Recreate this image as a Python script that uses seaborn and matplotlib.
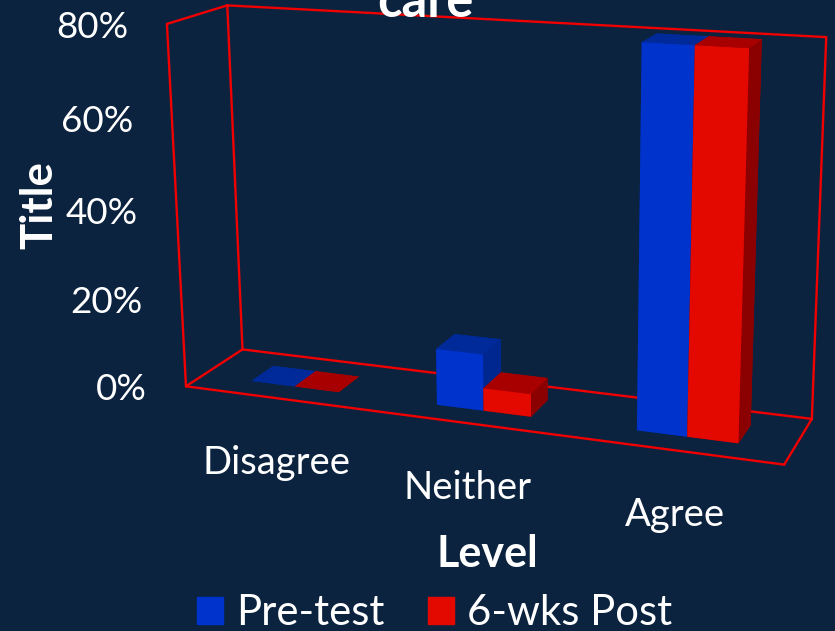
import numpy as np
import pandas as pd
import matplotlib
matplotlib.use('Agg')
import matplotlib.pyplot as plt
from matplotlib.patches import Patch
from mpl_toolkits.mplot3d import proj3d
import seaborn as sns

# Values
levels = ['Disagree', 'Neither', 'Agree']
pre_test = [0, 12.5, 80.3]
post_6wk = [0, 5, 80.3]
value_ticks = [0, 20, 40, 60, 80]
series_names = ['Pre-test', '6-wks Post']

df = pd.DataFrame({'Level': levels, series_names[0]: pre_test, series_names[1]: post_6wk})

bg = '#0C233F'
frame_red = '#F00000'
# front, top, side shades
blue_faces = sns.color_palette(['#0033CC', '#002A99', '#00278F'])
red_faces = sns.color_palette(['#E30800', '#A80000', '#8B0000'])

sns.set_theme(style='dark', rc={'figure.facecolor': bg, 'axes.facecolor': bg, 'text.color': 'white'})
plt.rcParams['font.family'] = ['Lato', 'DejaVu Sans']

W, H = 835, 631
fig = plt.figure(figsize=(W / 100, H / 100), dpi=100)
ax = fig.add_subplot(projection='3d')
ax.computed_zorder = False
ax.set_axis_off()
ax.patch.set_alpha(0)

ax.set_xlim(0, 3)
ax.set_ylim(0, 1)
ax.set_zlim(0, 80)
ax.view_init(elev=15.187, azim=-69.007, roll=0.504)
ax.set_proj_type('persp', focal_length=0.487)
ax.set_box_aspect((1, 0.198, 0.603), zoom=1)

# put the 3d view where the reference has it (scale and offset in pixels)
scale, tx, ty = 3968.44, 488.9, 409.9
ax.set_position([0, 0, 1, W / H])
ax.apply_aspect()
p0 = ax.transData.transform((0, 0))
unit = ax.transData.transform((1, 1)) - p0
factor = scale / unit[0]
ax.set_position([(tx - factor * p0[0]) / W, (ty - factor * p0[1]) / H, factor, factor * W / H])
ax.apply_aspect()

# the red wire frame: floor, left wall, back wall
def edge(a, b):
    ax.plot([a[0], b[0]], [a[1], b[1]], [a[2], b[2]], color=frame_red, lw=1.7, zorder=1,
            solid_capstyle='round')

c = {'fl': (0, 0, 0), 'bl': (0, 1, 0), 'br': (3, 1, 0), 'fr': (3, 0, 0),
     'flt': (0, 0, 80), 'blt': (0, 1, 80), 'brt': (3, 1, 80)}
for a, b in [('fl', 'bl'), ('bl', 'br'), ('br', 'fr'), ('fr', 'fl'), ('fl', 'flt'),
             ('flt', 'blt'), ('bl', 'blt'), ('blt', 'brt'), ('br', 'brt')]:
    edge(c[a], c[b])

# bars
bar_w = 0.24
depth_lo, depth_hi = 0.3, 0.7
z = 2
for i, row in df.iterrows():
    for k, (name, faces) in enumerate(zip(series_names, [blue_faces, red_faces])):
        front, top, side_c = faces
        ax.bar3d(i + 0.51 - bar_w + k * bar_w, depth_lo, 0, bar_w, depth_hi - depth_lo, row[name],
                 color=[top, top, front, top, side_c, side_c], shade=False,
                 linewidth=0, zorder=z)
        z += 1

M = ax.get_proj()

def to_view(x, y, zv):
    px, py, _ = proj3d.proj_transform(x, y, zv, M)
    return float(px), float(py)

for t in value_ticks:
    ax.annotate(f'{t}%', to_view(0, 0, t), xytext=(-39, -3.5), textcoords='offset pixels',
                ha='right', va='center', color='white', fontsize=26.5, annotation_clip=False)

for i, name in enumerate(levels):
    ax.annotate(name, to_view(i + 0.5, 0, 0), xytext=(0, -65), textcoords='offset pixels',
                ha='center', va='center', color='white', fontsize=27.5, annotation_clip=False)

fig.text(425 / W, 1 - 17 / H, 'care', color='white', fontsize=36.5, fontweight='bold',
         ha='center', va='baseline')
fig.text(487 / W, 1 - 554 / H, 'Level', color='white', fontsize=31, fontweight='bold',
         ha='center', va='center')
fig.text(39 / W, 1 - 205 / H, 'Title', color='white', fontsize=31.5, fontweight='bold',
         rotation=90, ha='center', va='center')

handles = [Patch(color=blue_faces[0], label=series_names[0]),
           Patch(color=red_faces[0], label=series_names[1])]
fig.legend(handles=handles, loc='center', bbox_to_anchor=(434.5 / W, 1 - 613 / H), ncol=2,
           frameon=False, fontsize=30.2, labelcolor='white', handlelength=0.62,
           handleheight=0.62, handletextpad=0.3, columnspacing=1.05, borderpad=0)

fig.savefig('out.png', dpi=100, facecolor=bg)
